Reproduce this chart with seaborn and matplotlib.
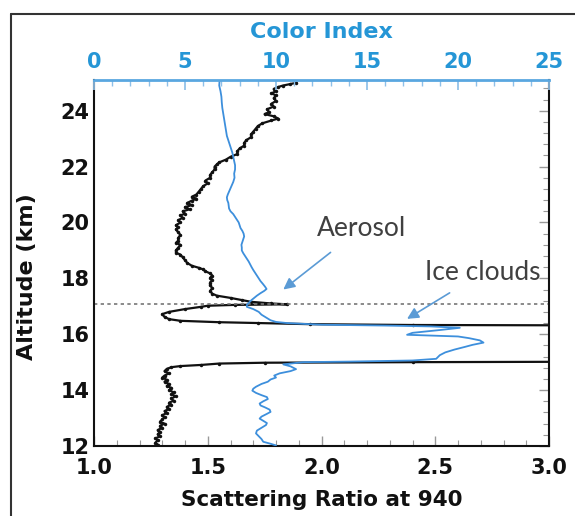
import matplotlib
matplotlib.use("Agg")
import matplotlib.pyplot as plt
import seaborn as sns
import pandas as pd
from matplotlib.lines import Line2D
from matplotlib.ticker import MultipleLocator

# scattering ratio profile (black), altitude in km
sr_alt = [25.00, 24.95, 24.90, 24.85, 24.78, 24.70, 24.62, 24.55, 24.45, 24.35,
          24.25, 24.15, 24.05, 23.95, 23.88, 23.80, 23.72, 23.65, 23.55, 23.45,
          23.35, 23.25, 23.15, 23.05, 22.95, 22.85, 22.75, 22.65, 22.55, 22.45,
          22.35, 22.25, 22.15, 22.08, 22.00, 21.90, 21.80, 21.70, 21.60, 21.50,
          21.40, 21.30, 21.20, 21.10, 21.00, 20.92, 20.85, 20.78, 20.70, 20.62,
          20.55, 20.47, 20.40, 20.32, 20.25, 20.17, 20.08, 20.00, 19.90, 19.82,
          19.75, 19.65, 19.55, 19.45, 19.35, 19.27, 19.20, 19.10, 19.00, 18.92,
          18.85, 18.75, 18.65, 18.55, 18.45, 18.38, 18.32, 18.25, 18.18, 18.10,
          18.02, 17.95, 17.85, 17.75, 17.65, 17.55, 17.45, 17.38, 17.30, 17.22,
          17.16, 17.10, 17.07, 17.05, 17.02, 16.98, 16.90, 16.80, 16.72, 16.62,
          16.54, 16.48, 16.43, 16.40, 16.36, 16.33, 16.31, 16.00, 15.60, 15.30,
          15.02, 15.00, 14.98, 14.95, 14.90, 14.86, 14.82, 14.76, 14.68, 14.60,
          14.52, 14.45, 14.37, 14.30, 14.22, 14.15, 14.08, 14.00, 13.92, 13.85,
          13.78, 13.70, 13.62, 13.55, 13.48, 13.40, 13.32, 13.25, 13.18, 13.10,
          13.02, 12.95, 12.87, 12.80, 12.72, 12.65, 12.57, 12.50, 12.42, 12.35,
          12.27, 12.20, 12.12, 12.05, 12.00]
sr_val = [1.89, 1.86, 1.83, 1.81, 1.79, 1.80, 1.78, 1.80, 1.79, 1.80,
          1.78, 1.79, 1.76, 1.77, 1.75, 1.79, 1.81, 1.78, 1.74, 1.72,
          1.71, 1.70, 1.69, 1.69, 1.67, 1.66, 1.66, 1.64, 1.63, 1.63,
          1.60, 1.58, 1.55, 1.54, 1.53, 1.53, 1.52, 1.51, 1.51, 1.49,
          1.50, 1.48, 1.47, 1.46, 1.45, 1.43, 1.45, 1.43, 1.41, 1.43,
          1.40, 1.42, 1.39, 1.40, 1.38, 1.39, 1.37, 1.38, 1.36, 1.37,
          1.36, 1.37, 1.38, 1.37, 1.37, 1.36, 1.38, 1.37, 1.36, 1.36,
          1.38, 1.39, 1.40, 1.41, 1.43, 1.46, 1.48, 1.49, 1.51, 1.52,
          1.51, 1.52, 1.51, 1.51, 1.52, 1.51, 1.52, 1.54, 1.60, 1.65,
          1.69, 1.78, 1.85, 1.62, 1.50, 1.47, 1.40, 1.33, 1.30, 1.31,
          1.33, 1.38, 1.55, 1.72, 1.95, 2.40, 3.60, 3.80, 3.80, 3.60,
          3.40, 2.40, 1.75, 1.55, 1.47, 1.38, 1.34, 1.32, 1.31, 1.33,
          1.31, 1.30, 1.32, 1.31, 1.33, 1.32, 1.34, 1.33, 1.35, 1.34,
          1.36, 1.34, 1.35, 1.33, 1.34, 1.32, 1.33, 1.31, 1.32, 1.30,
          1.31, 1.30, 1.29, 1.31, 1.29, 1.30, 1.28, 1.29, 1.28, 1.29,
          1.27, 1.28, 1.27, 1.28, 1.27]

# color index profile (blue)
ci_alt = [25.10, 24.90, 24.70, 24.50, 24.30, 24.10, 23.90, 23.70, 23.50, 23.30,
          23.10, 22.90, 22.70, 22.50, 22.35, 22.20, 22.05, 21.90, 21.75, 21.60,
          21.45, 21.30, 21.15, 21.00, 20.90, 20.80, 20.70, 20.60, 20.50, 20.40,
          20.30, 20.20, 20.10, 20.00, 19.90, 19.80, 19.70, 19.60, 19.50, 19.40,
          19.30, 19.20, 19.10, 19.00, 18.90, 18.80, 18.70, 18.60, 18.50, 18.40,
          18.30, 18.20, 18.10, 18.00, 17.90, 17.80, 17.70, 17.62, 17.55, 17.47,
          17.38, 17.30, 17.22, 17.15, 17.05, 16.98, 16.90, 16.80, 16.70, 16.60,
          16.50, 16.44, 16.40, 16.34, 16.31, 16.28, 16.23, 16.15, 16.05, 15.98,
          15.92, 15.86, 15.78, 15.70, 15.62, 15.55, 15.45, 15.35, 15.25, 15.12,
          15.06, 15.02, 15.00, 14.92, 14.85, 14.75, 14.68, 14.60, 14.52, 14.45,
          14.38, 14.30, 14.22, 14.12, 14.05, 13.98, 13.90, 13.82, 13.75, 13.68,
          13.60, 13.52, 13.45, 13.38, 13.30, 13.22, 13.15, 13.05, 12.98, 12.90,
          12.82, 12.75, 12.65, 12.55, 12.45, 12.35, 12.25, 12.15, 12.08, 12.02]
ci_val = [6.90, 6.88, 6.95, 7.00, 7.02, 7.05, 7.10, 7.15, 7.20, 7.25,
          7.30, 7.40, 7.50, 7.60, 7.65, 7.70, 7.75, 7.75, 7.70, 7.72,
          7.65, 7.55, 7.45, 7.35, 7.30, 7.32, 7.38, 7.40, 7.42, 7.50,
          7.65, 7.75, 7.85, 7.95, 8.00, 8.05, 8.15, 8.22, 8.25, 8.20,
          8.15, 8.10, 8.12, 8.12, 8.20, 8.30, 8.40, 8.50, 8.58, 8.66,
          8.75, 8.85, 8.95, 9.05, 9.15, 9.28, 9.40, 9.48, 9.35, 9.15,
          8.95, 8.80, 8.65, 8.55, 8.40, 8.40, 8.75, 9.05, 9.20, 9.45,
          9.70, 10.00, 10.60, 12.50, 16.00, 18.50, 20.10, 19.00, 17.50, 17.20,
          20.00, 20.60, 21.20, 21.40, 20.80, 20.40, 19.80, 19.30, 19.00, 18.80,
          17.50, 14.00, 11.50, 10.40, 10.80, 11.10, 10.80, 10.20, 9.90, 10.00,
          9.70, 9.55, 9.20, 8.90, 8.75, 8.70, 8.90, 9.20, 9.50, 9.55,
          9.30, 9.10, 9.15, 9.40, 9.65, 9.70, 9.50, 9.20, 9.10, 9.30,
          9.50, 9.45, 9.20, 8.95, 8.90, 9.05, 9.20, 9.30, 9.70, 10.00]

x_ticks = [1.0, 1.5, 2.0, 2.5, 3.0]
top_ticks = [0, 5, 10, 15, 20, 25]
y_ticks = [12, 14, 16, 18, 20, 22, 24]
tropopause = 17.08

sr = pd.DataFrame({"alt": sr_alt, "sr": sr_val})
ci = pd.DataFrame({"alt": ci_alt, "ci": ci_val})

sns.set_theme(style="white")
plt.rcParams["font.family"] = ["DejaVu Sans"]

blue = "#3d8fdc"
lab_blue = "#2596d6"
arrow_blue = "#5b9bd5"

fig = plt.figure(figsize=(5.75, 5.16), dpi=100)
ax = fig.add_axes([0.1635, 0.1357, 0.7913, 0.7093])

sns.lineplot(data=sr, x="sr", y="alt", sort=False, estimator=None, ax=ax,
             color="#111111", lw=1.6, marker="o", markersize=2.5, markeredgewidth=0)
ax.axhline(tropopause, color="#777777", lw=1.2, ls=(0, (2, 2)))

ax.set_xlim(1.0, 3.0)
ax.set_ylim(12.0, 25.1)
ax.set_xticks(x_ticks)
ax.set_yticks(y_ticks)
ax.xaxis.set_minor_locator(MultipleLocator(0.1))
ax.yaxis.set_minor_locator(MultipleLocator(0.4))
ax.tick_params(which="both", direction="in", right=True, top=False,
               color="#999999", labelcolor="#111111")
ax.tick_params(which="major", length=7, width=1)
ax.tick_params(which="minor", length=4, width=0.8)
ax.tick_params(axis="x", pad=9, labelsize=15)
ax.tick_params(axis="y", pad=3, labelsize=15)
for t in ax.get_xticklabels() + ax.get_yticklabels():
    t.set_fontweight("bold")
ax.set_xlabel("Scattering Ratio at 940", fontsize=15.5, fontweight="bold",
              labelpad=8, color="#111111")
ax.set_ylabel("Altitude (km)", fontsize=16, fontweight="bold", color="#111111")
ax.yaxis.set_label_coords(-0.125, 0.464)
for s in ["left", "bottom", "right"]:
    ax.spines[s].set_color("#111111")
    ax.spines[s].set_linewidth(1.5)
ax.spines["top"].set_visible(False)

ax2 = ax.twiny()
sns.lineplot(data=ci, x="ci", y="alt", sort=False, estimator=None, ax=ax2,
             color=blue, lw=1.3)
ax2.set_xlim(0, 25)
ax2.set_ylim(12.0, 25.1)
ax2.set_xticks(top_ticks)
ax2.xaxis.set_minor_locator(MultipleLocator(1))
ax2.tick_params(axis="x", which="both", direction="in", top=True, bottom=False,
                color="#8fc0e8", labelcolor=lab_blue, labelsize=15, pad=6)
ax2.tick_params(axis="x", which="major", length=7)
ax2.tick_params(axis="x", which="minor", length=4)
for t in ax2.get_xticklabels():
    t.set_fontweight("bold")
ax2.set_xlabel("Color Index", color=lab_blue, fontsize=16, fontweight="bold", labelpad=10)
ax2.set_ylabel("")
for s in ["left", "bottom", "right"]:
    ax2.spines[s].set_visible(False)
ax2.spines["top"].set_color("#5aa7e0")
ax2.spines["top"].set_linewidth(2)

ax2.annotate("Aerosol", xy=(10.4, 17.6), xytext=(14.7, 19.8),
             ha="center", va="center", fontsize=19, color="#404040", family="Lato",
             arrowprops=dict(arrowstyle="-|>", color=arrow_blue, lw=1.2,
                             mutation_scale=17, shrinkA=10, shrinkB=0))
ax2.annotate("Ice clouds", xy=(17.2, 16.55), xytext=(21.35, 18.2),
             ha="center", va="center", fontsize=19, color="#404040", family="Lato",
             arrowprops=dict(arrowstyle="-|>", color=arrow_blue, lw=1.2,
                             mutation_scale=17, shrinkA=6, shrinkB=0))

# frame of the original figure panel
fig.add_artist(Line2D([11 / 575, 11 / 575], [0, 1 - 14 / 516], color="#333333", lw=1.5))
fig.add_artist(Line2D([11 / 575, 1], [1 - 14 / 516, 1 - 14 / 516], color="#333333", lw=1.5))

plt.savefig("out.png", dpi=100)
